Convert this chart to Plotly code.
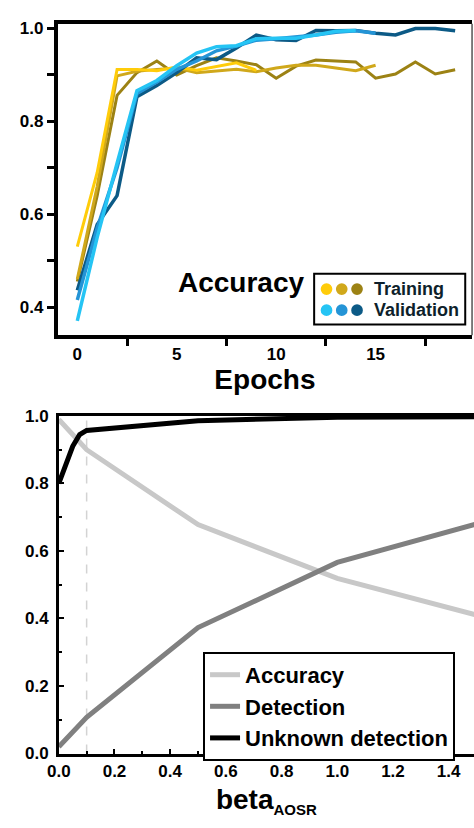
import plotly.graph_objects as go

# ---------------- data: top panel (accuracy vs epochs) ----------------
epochs_t1 = list(range(10))
train_1 = [0.53, 0.69, 0.912, 0.912, 0.909, 0.917, 0.910, 0.918, 0.926, 0.910]
epochs_t2 = list(range(16))
train_2 = [0.46, 0.66, 0.898, 0.908, 0.912, 0.915, 0.905, 0.908, 0.912, 0.907,
           0.915, 0.921, 0.921, 0.915, 0.909, 0.921]
epochs_t3 = list(range(20))
train_3 = [0.455, 0.64, 0.856, 0.905, 0.930, 0.900, 0.920, 0.937, 0.930, 0.922,
           0.893, 0.919, 0.932, 0.930, 0.928, 0.893, 0.902, 0.928, 0.902, 0.911]

epochs_v1 = list(range(15))
val_1 = [0.37, 0.55, 0.71, 0.866, 0.888, 0.920, 0.947, 0.961, 0.963, 0.978,
         0.979, 0.979, 0.986, 0.994, 0.996]
epochs_v2 = list(range(16))
val_2 = [0.415, 0.57, 0.700, 0.860, 0.885, 0.912, 0.930, 0.952, 0.962, 0.975,
         0.978, 0.982, 0.986, 0.992, 0.995, 0.990]
epochs_v3 = list(range(20))
val_3 = [0.436, 0.578, 0.640, 0.853, 0.877, 0.905, 0.937, 0.933, 0.958, 0.986,
         0.976, 0.974, 0.996, 0.995, 0.996, 0.990, 0.986, 1.000, 1.000, 0.995]

train_colors = ["#FFCC0A", "#D0A81B", "#9C8214"]
val_colors = ["#25C4F4", "#2494D6", "#0C5A86"]
legend_top_labels = ["Training", "Validation"]

# ---------------- data: bottom panel (metrics vs beta) ----------------
beta_acc = [0.0, 0.1, 0.5, 1.0, 1.5]
accuracy = [0.99, 0.90, 0.678, 0.519, 0.41]
beta_det = [0.0, 0.1, 0.5, 1.0, 1.5]
detection = [0.02, 0.107, 0.373, 0.566, 0.68]
beta_unk = [0.0, 0.025, 0.05, 0.075, 0.1, 0.5, 1.0, 1.5]
unknown = [0.80, 0.86, 0.91, 0.945, 0.957, 0.986, 0.996, 0.998]
beta_selected = 0.1

W, H = 474, 828
def px(x):
    return x / W
def py(y):
    return 1 - y / H

FONT = "Liberation Sans, Arial, sans-serif"

fig = go.Figure()

# top panel traces
for ex, vals, col in [(epochs_t3, train_3, train_colors[2]),
                      (epochs_t2, train_2, train_colors[1]),
                      (epochs_t1, train_1, train_colors[0])]:
    fig.add_trace(go.Scatter(x=ex, y=vals, mode="lines", showlegend=False,
                             line=dict(color=col, width=3), xaxis="x", yaxis="y"))
for ex, vals, col in [(epochs_v3, val_3, val_colors[2]),
                      (epochs_v2, val_2, val_colors[1]),
                      (epochs_v1, val_1, val_colors[0])]:
    fig.add_trace(go.Scatter(x=ex, y=vals, mode="lines", showlegend=False,
                             line=dict(color=col, width=3.5), xaxis="x", yaxis="y"))

# bottom panel traces
fig.add_trace(go.Scatter(x=[beta_selected, beta_selected], y=[0, 1], mode="lines",
                         showlegend=False, line=dict(color="#D3D3D3", width=1.5, dash="dash"),
                         xaxis="x2", yaxis="y2"))
fig.add_trace(go.Scatter(x=beta_acc, y=accuracy, mode="lines", name="Accuracy",
                         line=dict(color="#C8C8C8", width=5), xaxis="x2", yaxis="y2"))
fig.add_trace(go.Scatter(x=beta_det, y=detection, mode="lines", name="Detection",
                         line=dict(color="#808080", width=5), xaxis="x2", yaxis="y2"))
fig.add_trace(go.Scatter(x=beta_unk, y=unknown, mode="lines", name="Unknown detection",
                         line=dict(color="#000000", width=5), xaxis="x2", yaxis="y2"))

tickfont = dict(family=FONT, size=17, color="black", weight="bold")

fig.update_layout(
    width=W, height=H,
    margin=dict(l=0, r=0, t=0, b=0),
    paper_bgcolor="white", plot_bgcolor="white",
    font=dict(family=FONT, color="black"),
    xaxis=dict(domain=[px(47), px(472)], range=[-0.98, 19.85], anchor="y",
               showgrid=False, zeroline=False, showline=True, linecolor="black",
               linewidth=4, mirror=True, ticks="outside", ticklen=0,
               tickmode="linear", tick0=0, dtick=5, tickfont=tickfont,
               minor=dict(ticks="outside", tick0=2.5, dtick=5, ticklen=7,
                          tickwidth=3, tickcolor="black"),
               title=dict(text="Epochs", standoff=6,
                          font=dict(family=FONT, size=28, weight="bold", color="black"))),
    yaxis=dict(domain=[py(334), py(15)], range=[0.339, 1.0105], anchor="x",
               showgrid=False, zeroline=False, showline=True, linecolor="black",
               linewidth=4, mirror=False, ticks="outside", ticklen=7, tickwidth=3,
               tickcolor="black", tickmode="linear", tick0=0, dtick=0.2,
               tickformat=".1f", tickfont=tickfont,
               minor=dict(ticks="outside", dtick=0.1, ticklen=7, tickwidth=3,
                          tickcolor="black")),
    xaxis2=dict(domain=[px(48), px(474)], range=[0, 1.491], anchor="y2",
                showgrid=False, zeroline=False, showline=True, linecolor="black",
                linewidth=2.5, mirror=True, ticks="inside", ticklen=5, tickwidth=2,
                tickcolor="black", tickmode="linear", tick0=0, dtick=0.2,
                tickformat=".1f", tickfont=tickfont,
                minor=dict(ticks="inside", dtick=0.1, ticklen=3, tickwidth=1.5,
                           tickcolor="black"),
                title=dict(text="beta<sub><span style='font-size:15px'>AOSR</span></sub>",
                           standoff=10,
                           font=dict(family=FONT, size=28, weight="bold", color="black"))),
    yaxis2=dict(domain=[py(762), py(416.5)], range=[0, 1], anchor="x2",
                showgrid=False, zeroline=False, showline=True, linecolor="black",
                linewidth=2.5, mirror=False, ticks="inside", ticklen=5, tickwidth=2,
                tickcolor="black", tickmode="linear", tick0=0, dtick=0.2,
                tickformat=".1f", tickfont=tickfont, ticklabelstandoff=4,
                minor=dict(ticks="inside", dtick=0.1, ticklen=3, tickwidth=1.5,
                           tickcolor="black")),
    legend=dict(x=px(196), y=py(658), xanchor="left", yanchor="top",
                bordercolor="black", borderwidth=2, bgcolor="white",
                font=dict(family=FONT, size=22, weight="bold", color="black"),
                itemwidth=30, tracegroupgap=0),
)

shapes = []
# thin right border of top panel
shapes.append(dict(type="line", xref="paper", yref="paper",
                   x0=px(472), x1=px(472), y0=py(334), y1=py(15),
                   line=dict(color="#555555", width=1.5)))
# custom top legend box
shapes.append(dict(type="rect", xref="paper", yref="paper",
                   x0=px(310), x1=px(465), y0=py(323), y1=py(271),
                   line=dict(color="black", width=2), fillcolor="white", layer="above"))
dot_x = [322.7, 338.3, 354.0]
rows_y = [286.7, 308.3]
r = 6
for row, cols in zip(rows_y, [train_colors, val_colors]):
    for cx, c in zip(dot_x, cols):
        shapes.append(dict(type="circle", xref="paper", yref="paper",
                           x0=px(cx - r), x1=px(cx + r), y0=py(row + r), y1=py(row - r),
                           line=dict(width=0), fillcolor=c, layer="above"))
fig.update_layout(shapes=shapes)

annotations = [
    dict(text="Accuracy", xref="paper", yref="paper", x=px(235), y=py(280),
         xanchor="center", yanchor="middle", showarrow=False,
         font=dict(family=FONT, size=28, weight="bold", color="black")),
]
for row, lab in zip(rows_y, legend_top_labels):
    annotations.append(dict(text=lab, xref="paper", yref="paper", x=px(369), y=py(row),
                            xanchor="left", yanchor="middle", showarrow=False,
                            font=dict(family=FONT, size=18, weight="bold", color="#0E1F2B")))
fig.update_layout(annotations=annotations)

fig.write_html("out.html",
               config={"displayModeBar": False},
               post_script="document.body.style.margin='0';"
                           "document.body.style.overflow='hidden';")
